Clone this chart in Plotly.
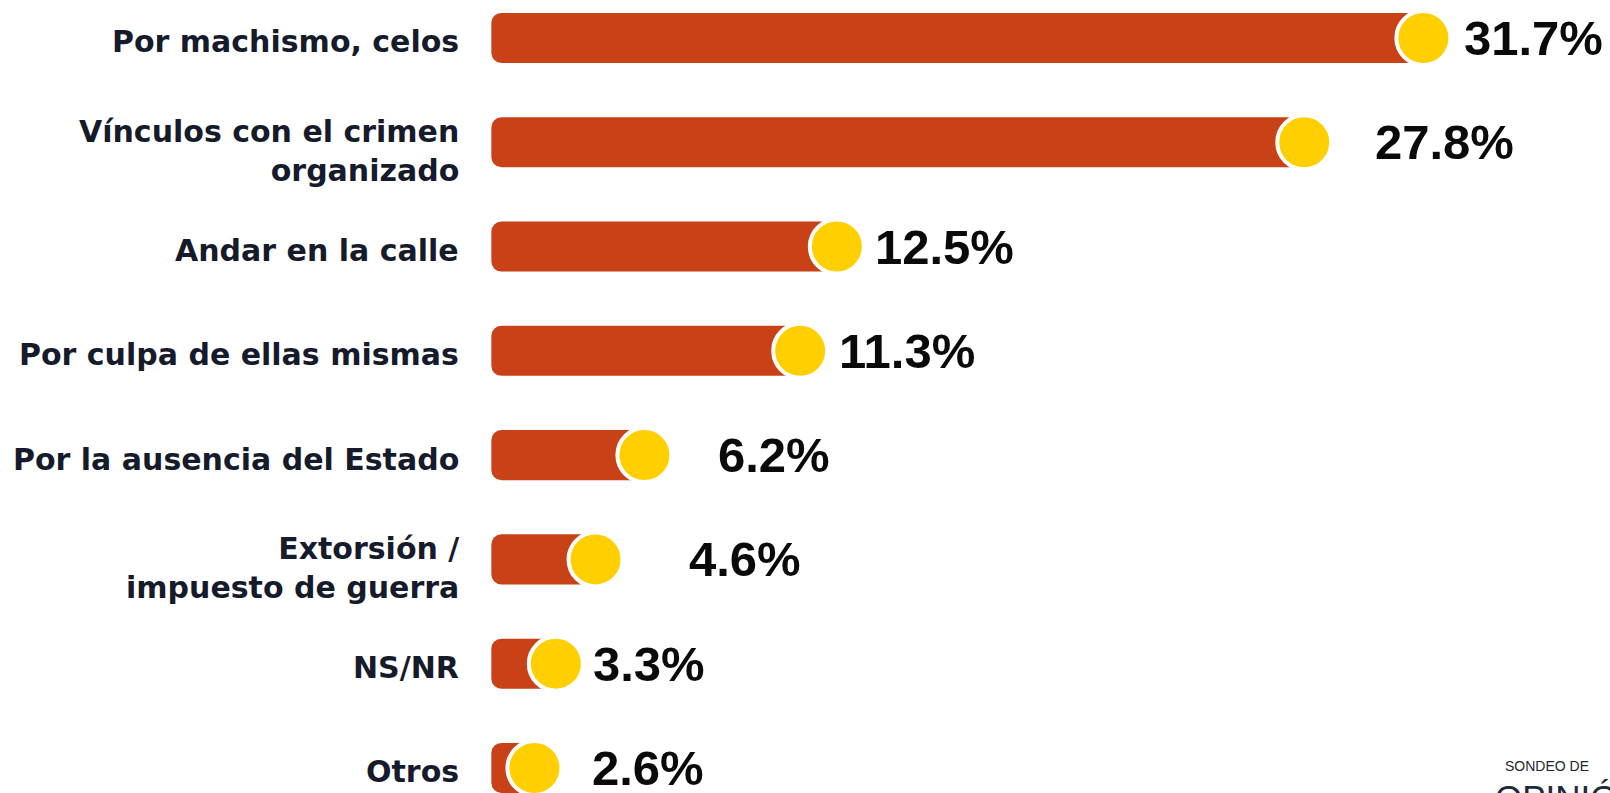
import plotly.graph_objects as go

# Survey answers, in display order (top to bottom)
categories = [
    "Por machismo, celos",
    "Vínculos con el crimen<br>organizado",
    "Andar en la calle",
    "Por culpa de ellas mismas",
    "Por la ausencia del Estado",
    "Extorsión /<br>impuesto de guerra",
    "NS/NR",
    "Otros",
]
values = [31.7, 27.8, 12.5, 11.3, 6.2, 4.6, 3.3, 2.6]
value_labels = ["31.7%", "27.8%", "12.5%", "11.3%", "6.2%", "4.6%", "3.3%", "2.6%"]

# Styling
BAR_COLOR = "#C94117"
DOT_COLOR = "#FFCF00"
LABEL_COLOR = "#161B2B"
BAR_START = 1.19          # left end of every bar, in axis units
LABEL_GAP = [39, 69, 36, 37, 72, 91, 35, 56]  # px from dot centre to value text

rows = list(range(len(categories)))

fig = go.Figure()

# Bars run from the value back to the common start so the rounded end sits on the left
fig.add_trace(go.Bar(
    orientation="h",
    y=rows,
    base=values,
    x=[BAR_START - v for v in values],
    width=0.48,
    marker=dict(color=BAR_COLOR, cornerradius=10, line=dict(width=0)),
    hoverinfo="skip",
))

# Yellow end-dots
fig.add_trace(go.Scatter(
    x=values,
    y=rows,
    mode="markers",
    marker=dict(size=54, color=DOT_COLOR, line=dict(color="white", width=4)),
    hoverinfo="skip",
))

annotations = []

# Category names, right-aligned just left of the bars
for r, name in zip(rows, categories):
    annotations.append(dict(
        x=BAR_START, y=r, xref="x", yref="y",
        text=name, showarrow=False,
        xanchor="right", yanchor="middle", align="right",
        xshift=-30, yshift=-(4 + 5 * name.count("<br>")),
        font=dict(family="DejaVu Sans", size=30, color=LABEL_COLOR, weight=700),
    ))

# Percentages to the right of each dot
for r, v, t, gap in zip(rows, values, value_labels, LABEL_GAP):
    annotations.append(dict(
        x=v, y=r, xref="x", yref="y",
        text=t, showarrow=False,
        xanchor="left", yanchor="middle",
        xshift=gap, yshift=0,
        font=dict(family="Liberation Sans Narrow, Arial Narrow, Liberation Sans, Arial",
                  size=49, color="#0A0A0A", weight=700),
    ))

# Brand mark in the lower-right corner
annotations.append(dict(
    x=1, y=0.0336, xref="paper", yref="paper",
    text="SONDEO DE", showarrow=False,
    xanchor="right", yanchor="middle", xshift=-19,
    font=dict(family="Liberation Sans Narrow, Liberation Sans, Arial", size=14,
              color="#23262E", weight=400),
))
annotations.append(dict(
    x=1, y=0.0214, xref="paper", yref="paper",
    text="OPINIÓN", showarrow=False,
    xanchor="left", yanchor="top", xshift=-117,
    font=dict(family="Liberation Sans, Arial", size=35, color="#1E2A3A"),
))

fig.update_layout(
    width=1610,
    height=793,
    margin=dict(l=455, r=0, t=0, b=0),
    paper_bgcolor="white",
    plot_bgcolor="white",
    showlegend=False,
    barmode="overlay",
    annotations=annotations,
    xaxis=dict(range=[0, 37.81], visible=False, fixedrange=True),
    yaxis=dict(range=[7.24, -0.364], visible=False, fixedrange=True),
)

fig.write_html("out.html")
